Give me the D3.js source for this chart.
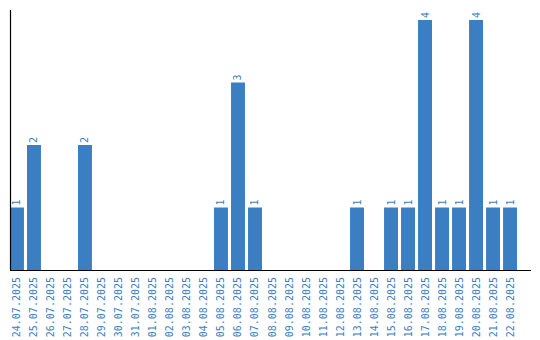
<!DOCTYPE html>
<html lang="en">
<head>
	<meta charset="UTF-8">
	<title>Daily counts</title>
	<script src="https://d3js.org/d3.v7.min.js"></script>
	<style>
		body { margin: 0; background: #fff; }
		text { font-family: "DejaVu Sans Mono", monospace; font-size: 10px; fill: #3b7dc1; }
	</style>
</head>
<body>
<script>
	var dates = ['24.07.2025', '25.07.2025', '26.07.2025', '27.07.2025', '28.07.2025', '29.07.2025',
		'30.07.2025', '31.07.2025', '01.08.2025', '02.08.2025', '03.08.2025', '04.08.2025',
		'05.08.2025', '06.08.2025', '07.08.2025', '08.08.2025', '09.08.2025', '10.08.2025',
		'11.08.2025', '12.08.2025', '13.08.2025', '14.08.2025', '15.08.2025', '16.08.2025',
		'17.08.2025', '18.08.2025', '19.08.2025', '20.08.2025', '21.08.2025', '22.08.2025'];
	var counts = [1, 2, 0, 0, 2, 0, 0, 0, 0, 0, 0, 0, 1, 3, 1, 0, 0, 0, 0, 0, 1, 0, 1, 1, 4, 1, 1, 4, 1, 1];

	var width = 540, height = 340;
	var left = 10, base = 270;

	var svg = d3.select('body').append('svg')
		.attr('width', width)
		.attr('height', height);

	var x = d3.scaleBand()
		.domain(dates)
		.range([left, 517])
		.paddingInner(0.18)
		.paddingOuter(0);

	var y = d3.scaleLinear()
		.domain([0, 4])
		.range([base, 20]);

	var data = dates.map(function (d, i) { return {date: d, value: counts[i]}; });
	var shown = data.filter(function (d) { return d.value > 0; });

	//----bars----
	svg.selectAll('rect.bar')
		.data(shown)
		.enter().append('rect')
		.attr('class', 'bar')
		.attr('x', function (d) { return x(d.date); })
		.attr('y', function (d) { return y(d.value); })
		.attr('width', x.bandwidth())
		.attr('height', function (d) { return base - y(d.value); })
		.attr('fill', '#3b7ec2');

	//----value labels----
	svg.selectAll('text.val')
		.data(shown)
		.enter().append('text')
		.attr('class', 'val')
		.attr('transform', function (d) {
			return 'translate(' + (x(d.date) + x.bandwidth() / 2 + 3.5) + ',' + (y(d.value) - 2) + ') rotate(-90)';
		})
		.text(function (d) { return d.value; });

	//----axes----
	var xAxis = svg.append('g')
		.attr('transform', 'translate(0,' + base + ')')
		.call(d3.axisBottom(x).tickSize(0).tickPadding(0));
	xAxis.select('.domain').remove();
	xAxis.selectAll('text')
		.attr('x', 0).attr('y', 0).attr('dy', null)
		.attr('transform', 'translate(3.5,7) rotate(-90)')
		.style('text-anchor', 'end')
		.style('font-family', '"DejaVu Sans Mono", monospace')
		.style('font-size', '10px')
		.attr('fill', '#3b7dc1');

	svg.append('line')
		.attr('x1', left).attr('x2', 531)
		.attr('y1', base + 0.5).attr('y2', base + 0.5)
		.attr('stroke', '#000').attr('stroke-width', 1.2);
	svg.append('line')
		.attr('x1', left + 0.5).attr('x2', left + 0.5)
		.attr('y1', 10).attr('y2', base)
		.attr('stroke', '#000').attr('stroke-width', 1.2);
</script>
</body>
</html>
